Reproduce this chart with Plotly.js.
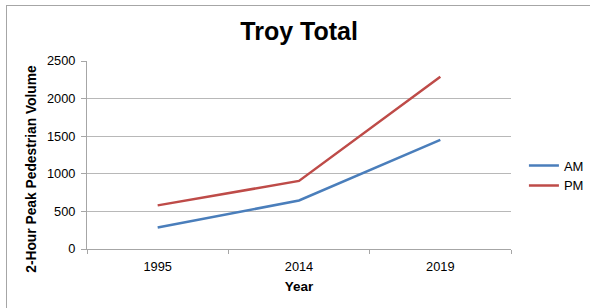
<!DOCTYPE html>
<html>
<head>
<meta charset="utf-8">
<script src="https://cdn.plot.ly/plotly-3.0.1.min.js"></script>
<style>
html,body{margin:0;padding:0;background:#fff;}
#wrap{position:relative;width:590px;height:308px;overflow:hidden;}
#chart{width:590px;height:308px;}
#frame{position:absolute;left:6px;top:5px;width:590px;height:320px;border-top:1.5px solid #a6a6a6;border-left:1.5px solid #a6a6a6;pointer-events:none;}
</style>
</head>
<body>
<div id="wrap"><div id="chart"></div><div id="frame"></div></div>
<script>
const years = ["1995", "2014", "2019"];
const amValues = [285, 645, 1450];
const pmValues = [580, 905, 2290];
const yTicks = [0, 500, 1000, 1500, 2000, 2500];

const FONT = "Liberation Sans, Arial, Helvetica, sans-serif";

const traces = [
  {x: years, y: amValues, name: "AM", type: "scatter", mode: "lines",
   line: {color: "#4a7ebb", width: 2.5}},
  {x: years, y: pmValues, name: "PM", type: "scatter", mode: "lines",
   line: {color: "#be4b48", width: 2.5}}
];

const layout = {
  width: 590, height: 308,
  margin: {l: 87, r: 79, t: 61, b: 59},
  paper_bgcolor: "#ffffff", plot_bgcolor: "#ffffff",
  font: {family: FONT, size: 13, color: "#000"},
  showlegend: true,
  title: {text: "<b>Troy Total</b>", font: {family: FONT, size: 25, color: "#000"},
          x: 0.507, xanchor: "center", y: 0.9, yref: "container", yanchor: "middle"},
  xaxis: {type: "category", range: [-0.5, 2.5], tickson: "boundaries",
          showgrid: false, showline: true, linecolor: "#a6a6a6", linewidth: 1,
          ticks: "outside", ticklen: 4, tickcolor: "#a6a6a6", ticklabelstandoff: 6,
          tickfont: {family: FONT, size: 12.8, color: "#000"},
          title: {text: "<b>Year</b>", font: {family: FONT, size: 13.5, color: "#000"}, standoff: 8},
          automargin: false, fixedrange: true},
  yaxis: {range: [0, 2500], tickvals: yTicks, showgrid: true, gridcolor: "#b8b8b8", gridwidth: 1,
          showline: true, linecolor: "#a6a6a6", linewidth: 1, zeroline: false,
          ticks: "outside", ticklen: 5, tickcolor: "#a6a6a6", ticklabelstandoff: 3,
          tickfont: {family: FONT, size: 12.8, color: "#000"},
          automargin: false, fixedrange: true},
  legend: {xref: "container", yref: "container", x: 0.888, xanchor: "left", y: 0.43, yanchor: "middle",
           font: {family: FONT, size: 13, color: "#000"}, tracegroupgap: 0,
           itemwidth: 30, bgcolor: "rgba(0,0,0,0)"},
  annotations: [
    {text: "<b>2-Hour Peak Pedestrian Volume</b>", textangle: -90,
     xref: "paper", yref: "paper", x: -0.13, y: 0.426, xanchor: "center", yanchor: "middle",
     showarrow: false, font: {family: FONT, size: 13.8, color: "#000"}}
  ]
};

Plotly.newPlot("chart", traces, layout, {displayModeBar: false, staticPlot: true});
</script>
</body>
</html>
